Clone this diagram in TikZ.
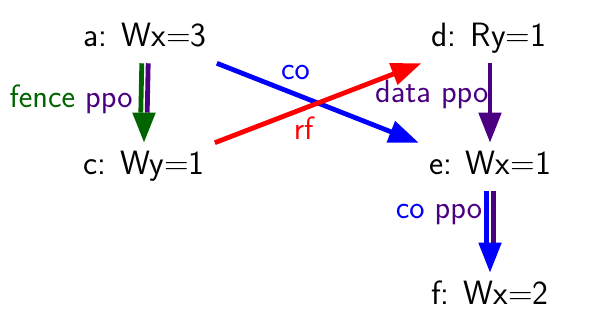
\documentclass[tikz,border=0pt]{standalone}
\usetikzlibrary{arrows.meta}
\definecolor{coblue}{HTML}{0000FF}
\definecolor{rfred}{HTML}{FF0000}
\definecolor{ppoviolet}{HTML}{4B0082}
\definecolor{fencegreen}{HTML}{006400}
\tikzset{
  every picture/.style={
    font=\sffamily\fontsize{24pt}{28pt}\selectfont,
    line cap=butt,
  },
  event/.style={anchor=base, inner xsep=0.25cm, inner ysep=0pt,
    text height=0.8cm, text depth=0.4cm},
  rel/.style={line width=0.12cm},
  reltip/.style={-{Triangle[length=0.75cm,width=0.55cm]}},
  lbl/.style={inner sep=0.1cm, font=\sffamily\fontsize{23pt}{27pt}\selectfont},
}
\begin{document}
\begin{tikzpicture}
    \useasboundingbox (0,0) rectangle (14.725,8.325);

    % Events
    \node[event] (a) at (3.625,7.15) {a: Wx=3};
    \node[event] (c) at (3.6,3.95) {c: Wy=1};
    \node[event] (d) at (12.225,7.15) {d: Ry=1};
    \node[event] (e) at (12.25,3.95) {e: Wx=1};
    \node[event] (f) at (12.25,0.7) {f: Wx=2};

    % Where the doubled arrows get their head
    \coordinate (ac tip) at ([yshift=0.75cm]c.north);
    \coordinate (ef tip) at ([yshift=0.75cm]f.north);

    % a -> c : fence, ppo
    \draw[rel, ppoviolet] ([xshift=0.08cm]a.south) -- ([xshift=0.08cm]ac tip);
    \draw[rel, fencegreen] ([xshift=-0.08cm]a.south) -- ([xshift=-0.08cm]ac tip)
        node[lbl, pos=0.9, anchor=base east, xshift=-0.05cm] {fence \textcolor{ppoviolet}{ppo}};
    \draw[rel, reltip, fencegreen] (ac tip) -- (c.north);

    % a -> e : co
    \draw[rel, reltip, coblue] (a.south east) -- (e.north west)
        node[lbl, pos=0.39, above=0.2cm] {co};

    % c -> d : rf
    \draw[rel, reltip, rfred] (c.north east) -- (d.south west)
        node[lbl, pos=0.43, below=0.05cm] {rf};

    % d -> e : data ppo
    \draw[rel, reltip, ppoviolet] ([xshift=0.025cm]d.south) -- (e.north)
        node[lbl, pos=0.49, anchor=base east, xshift=0.12cm] {data ppo};

    % e -> f : co, ppo
    \draw[rel, ppoviolet] ([xshift=0.08cm]e.south) -- ([xshift=0.08cm]ef tip);
    \draw[rel, coblue] ([xshift=-0.08cm]e.south) -- ([xshift=-0.08cm]ef tip)
        node[lbl, pos=0.52, anchor=base east, xshift=0.04cm] {co \textcolor{ppoviolet}{ppo}};
    \draw[rel, reltip, coblue] (ef tip) -- (f.north);
\end{tikzpicture}
\end{document}
